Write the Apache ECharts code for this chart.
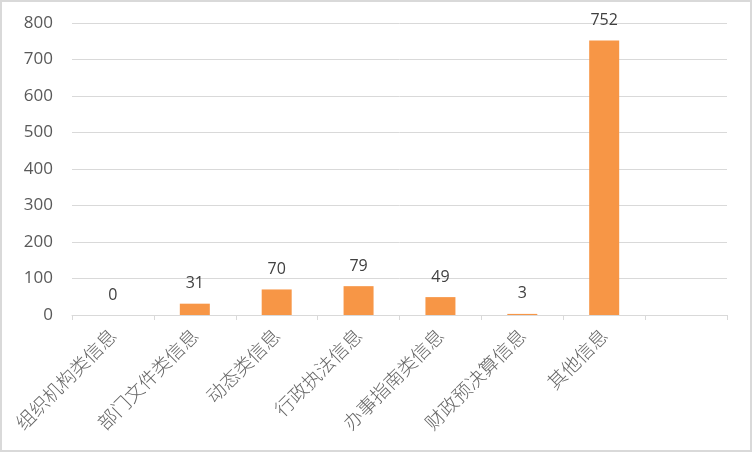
<!DOCTYPE html>
<html><head><meta charset="utf-8">
<script src="https://cdn.jsdelivr.net/npm/echarts@6/dist/echarts.min.js"></script>
<style>html,body{margin:0;padding:0;background:#fff}#c{width:752px;height:452px}</style>
</head><body><div id="c"></div>
<script>
var categories = ['组织机构类信息','部门文件类信息','动态类信息','行政执法信息','办事指南类信息','财政预决算信息','其他信息',''];
var values = [0, 31, 70, 79, 49, 3, 752, null];
var yTicks = {min: 0, max: 800, interval: 100};

var chart = echarts.init(document.getElementById('c'), null, {renderer: 'canvas'});
chart.setOption({
  animation: false,
  backgroundColor: '#fff',
  graphic: [{type: 'rect', z: 100, shape: {x: 1, y: 1, width: 750, height: 450}, style: {fill: 'none', stroke: '#d9d9d9', lineWidth: 2}, silent: true}],
  grid: {left: 72, right: 25, top: 23, bottom: 137},
  xAxis: {
    type: 'category', data: categories,
    axisLine: {lineStyle: {color: '#d9d9d9', width: 1}},
    axisTick: {show: true, alignWithLabel: false, length: 5, lineStyle: {color: '#d9d9d9'}},
    axisLabel: {rotate: 45, interval: 0, margin: 17, color: '#666666', fontSize: 19, fontWeight: 300, fontFamily: 'Noto Sans CJK SC'}
  },
  yAxis: {
    type: 'value', min: yTicks.min, max: yTicks.max, interval: yTicks.interval,
    axisLine: {show: false}, axisTick: {show: false},
    splitLine: {lineStyle: {color: '#d9d9d9', width: 1}},
    axisLabel: {color: '#595959', fontSize: 17, margin: 19, fontFamily: 'Open Sans'}
  },
  series: [{
    type: 'bar', data: values, barWidth: 30,
    itemStyle: {color: '#F79646'},
    label: {show: true, position: 'top', distance: 12, color: '#404040', fontSize: 16, fontFamily: 'Open Sans'}
  }]
});
</script></body></html>
